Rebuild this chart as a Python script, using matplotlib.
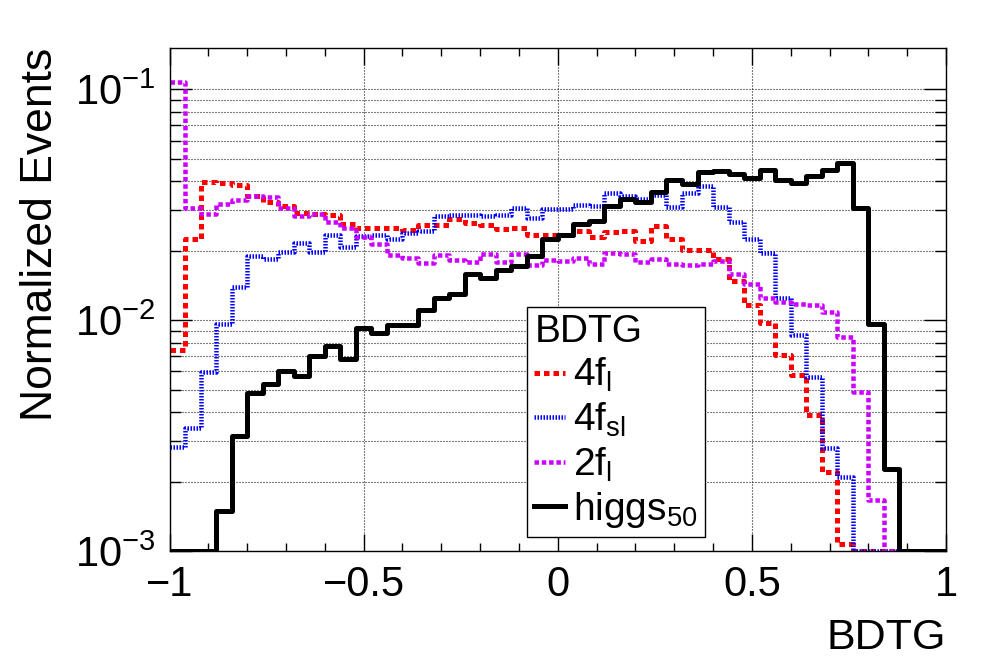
import matplotlib
matplotlib.use("Agg")
import matplotlib.pyplot as plt
import numpy as np
from matplotlib.ticker import LogLocator, NullFormatter, MultipleLocator, FuncFormatter

plt.rcParams['font.family'] = ['Liberation Sans', 'DejaVu Sans']
plt.rcParams['mathtext.fontset'] = 'custom'
plt.rcParams['mathtext.rm'] = 'Liberation Sans'
plt.rcParams['mathtext.it'] = 'Liberation Sans'
plt.rcParams['mathtext.bf'] = 'Liberation Sans'
plt.rcParams['lines.scale_dashes'] = False

# 50 bins from -1 to 1
edges = np.linspace(-1, 1, 51)

f4_l = [0.0074, 0.0224, 0.0398, 0.0394, 0.0387, 0.0345, 0.0327, 0.0314, 0.0292, 0.0288,
        0.0285, 0.0262, 0.0251, 0.0252, 0.0250, 0.0247, 0.0259, 0.0258, 0.0275, 0.0263,
        0.0259, 0.0248, 0.0250, 0.0233, 0.0235, 0.0235, 0.0243, 0.0230, 0.0241, 0.0243,
        0.0220, 0.0255, 0.0224, 0.0201, 0.0201, 0.0185, 0.0148, 0.0116, 0.0097, 0.0071,
        0.0058, 0.0039, 0.0022, 0.00107, 0, 0, 0, 0, 0, 0]

f4_sl = [0.00283, 0.00342, 0.00597, 0.00968, 0.0139, 0.0189, 0.0185, 0.0198, 0.0217, 0.0197,
         0.0233, 0.0208, 0.0231, 0.0233, 0.0224, 0.0239, 0.0243, 0.0283, 0.0287, 0.0287,
         0.0283, 0.0287, 0.0305, 0.0277, 0.0302, 0.0302, 0.0315, 0.0313, 0.0357, 0.0345,
         0.0336, 0.0350, 0.0309, 0.0357, 0.0381, 0.0309, 0.0266, 0.0224, 0.0196, 0.0125,
         0.0086, 0.0057, 0.0028, 0.0021, 0, 0, 0, 0, 0, 0]

f2_l = [0.108, 0.0308, 0.0290, 0.0320, 0.0331, 0.0345, 0.0341, 0.0305, 0.0282, 0.0288,
        0.0266, 0.0250, 0.0230, 0.0215, 0.0191, 0.0187, 0.0177, 0.0192, 0.0182, 0.0178,
        0.0194, 0.0178, 0.0193, 0.0173, 0.0182, 0.0181, 0.0187, 0.0175, 0.0196, 0.0194,
        0.0179, 0.0184, 0.0175, 0.0173, 0.0175, 0.0181, 0.0158, 0.0144, 0.0125, 0.0120,
        0.0118, 0.0117, 0.0109, 0.0085, 0.0049, 0.00166, 0, 0, 0, 0]

higgs_50 = [0, 0, 0, 0.00149, 0.00315, 0.00484, 0.00527, 0.00603, 0.00572, 0.00703,
            0.00774, 0.0068, 0.0093, 0.00885, 0.00954, 0.00954, 0.0111, 0.01245, 0.01305, 0.0159,
            0.0153, 0.01646, 0.01714, 0.0189, 0.0224, 0.0233, 0.0260, 0.0268, 0.0313, 0.0336,
            0.0325, 0.0359, 0.0404, 0.0391, 0.0438, 0.0443, 0.0432, 0.0413, 0.0449, 0.0406,
            0.0393, 0.0421, 0.0446, 0.0482, 0.0306, 0.00968, 0.00226, 0, 0, 0]

ymin, ymax = 1e-3, 0.152
px = 0.72  # points per pixel at dpi 100

fig = plt.figure(figsize=(9.96, 6.72), dpi=100)
ax = fig.add_axes([0.1702, 0.18, 0.7796, 0.7493])


def draw(vals, color, lw, dashes, label):
    v = np.maximum(np.asarray(vals, dtype=float), ymin)  # empty bins sit on the frame, like ROOT
    ls = '-' if dashes is None else (0, (dashes[0] * px, dashes[1] * px))
    ax.step(edges, np.append(v, v[-1]), where='post', color=color,
            linewidth=lw * px, linestyle=ls, label=label)


draw(f4_l, '#ff0000', 5, (5.5, 4), r'4f$_\mathrm{l}$')
draw(f4_sl, '#0000ff', 4.5, (1.5, 1.5), r'4f$_\mathrm{sl}$')
draw(f2_l, '#cc00ff', 4.5, (4.5, 2.8), r'2f$_\mathrm{l}$')
draw(higgs_50, 'black', 5, None, r'higgs$_\mathrm{50}$')

ax.set_xlim(-1, 1)
ax.set_yscale('log')
ax.set_ylim(ymin, ymax)

ax.xaxis.set_major_locator(MultipleLocator(0.5))
ax.xaxis.set_minor_locator(MultipleLocator(0.1))
ax.xaxis.set_major_formatter(FuncFormatter(lambda v, p: ('%g' % v).replace('-', '\u2212')))
ax.yaxis.set_major_locator(LogLocator(base=10))
ax.yaxis.set_minor_locator(LogLocator(base=10, subs=np.arange(2, 10)))
ax.yaxis.set_minor_formatter(NullFormatter())

ax.tick_params(which='both', direction='in', top=True, right=True, width=1, labelsize=30)
ax.tick_params(axis='x', which='major', length=17 * px, pad=10)
ax.tick_params(axis='x', which='minor', length=8 * px)
ax.tick_params(axis='y', which='major', length=22 * px, pad=10)
ax.tick_params(axis='y', which='minor', length=11 * px)

grid_ls = (0, (1 * px, 2 * px))
ax.grid(axis='x', which='major', color='black', linestyle=grid_ls, linewidth=0.8)
ax.grid(axis='y', which='both', color='black', linestyle=grid_ls, linewidth=0.8)
ax.set_axisbelow(True)

for s in ax.spines.values():
    s.set_linewidth(1)

ax.set_xlabel('BDTG', fontsize=31, loc='right')
ax.xaxis.set_label_coords(1.0, -0.133)
ax.set_ylabel('Normalized Events', fontsize=32, loc='top')
ax.yaxis.set_label_coords(-0.14, 1.0)

leg = ax.legend(title='BDTG', fontsize=28, title_fontsize=28, alignment='left',
                loc='lower left', bbox_to_anchor=(0.4608, 0.0284),
                frameon=True, fancybox=False, edgecolor='black', framealpha=1,
                handlelength=0.78, handletextpad=0.22, labelspacing=0.16,
                borderpad=0.18, borderaxespad=0)
leg.get_frame().set_linewidth(1)

fig.savefig('out.png', dpi=100)
